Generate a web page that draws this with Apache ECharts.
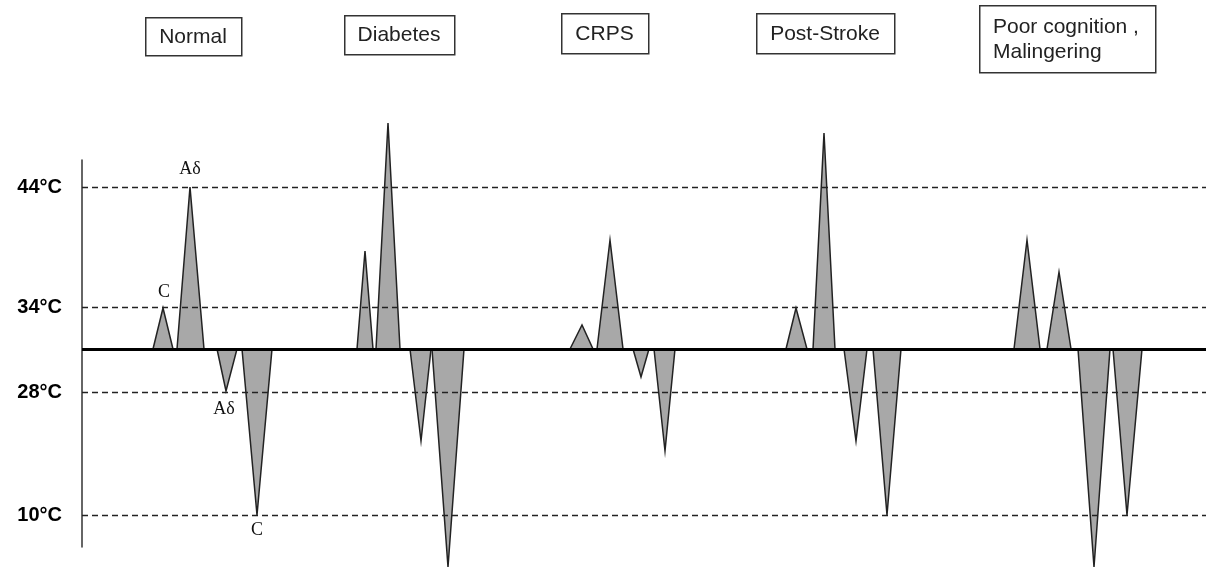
<!DOCTYPE html>
<html>
<head>
<meta charset="utf-8">
<script src="https://cdn.jsdelivr.net/npm/echarts@6/dist/echarts.min.js"></script>
<style>
html,body{margin:0;padding:0;background:#fff;}
#chart{width:1206px;height:568px;}
</style>
</head>
<body>
<div id="chart"></div>
<script>
// Condition labels (boxes at the top)
const groups = ['Normal', 'Diabetes', 'CRPS', 'Post-Stroke', 'Poor cognition ,\nMalingering'];

// Spikes: [start, peak position, end, peak height] in relative units (0 = baseline)
const normalSpikes = [[71, 81, 91, 41], [95, 108, 122, 162], [135, 144, 155, -42], [160, 175, 190, -166]];
const diabetesSpikes = [[275, 283, 291, 98], [294, 306, 318, 226], [328, 339, 349, -92], [350, 366, 382, -218]];
const crpsSpikes = [[488, 500, 511, 24], [515, 528, 541, 109], [551, 559, 567, -28], [572, 583, 593, -102]];
const strokeSpikes = [[704, 714, 725, 41], [731, 742, 753, 216], [762, 774, 785, -92], [791, 805, 819, -166]];
const poorSpikes = [[932, 945, 958, 109], [965, 977, 989, 77], [996, 1012, 1028, -218], [1031, 1045, 1060, -166]];

// Temperature reference levels
const tickLevels = [162, 42, -43, -166];
const tickLabels = ['44°C', '34°C', '28°C', '10°C'];

// Fibre annotations for the Normal group
const fibreLabels = [[82, 57, 'C'], [108, 180, 'Aδ'], [142, -60, 'Aδ'], [175, -181, 'C']];

const allSpikes = [].concat(normalSpikes, diabetesSpikes, crpsSpikes, strokeSpikes, poorSpikes);

// Box layout (pixels)
const boxLayout = [
  {x: 145, y: 17, w: 96, h: 38, align: 'center'},
  {x: 344, y: 15, w: 110, h: 39, align: 'center'},
  {x: 561, y: 13, w: 87, h: 40, align: 'center'},
  {x: 756, y: 13, w: 138, h: 40, align: 'center'},
  {x: 979, y: 5, w: 176, h: 67, align: 'left'}
];

const graphics = [];
groups.forEach((g, i) => {
  const b = boxLayout[i];
  graphics.push({
    type: 'rect', left: b.x, top: b.y, z: 10,
    shape: {width: b.w, height: b.h},
    style: {fill: '#fff', stroke: '#333', lineWidth: 1.5}
  });
  graphics.push({
    type: 'text', z: 11,
    x: b.align === 'center' ? b.x + b.w / 2 : b.x + 14,
    y: b.y + b.h / 2 + 1,
    style: {
      text: g, fill: '#222',
      font: '21px "Liberation Sans", Arial, sans-serif',
      align: b.align, verticalAlign: 'middle', lineHeight: 25
    }
  });
});

const chart = echarts.init(document.getElementById('chart'), null, {renderer: 'canvas'});
chart.setOption({
  animation: false,
  backgroundColor: '#fff',
  grid: {left: 82, right: 0, top: 160, bottom: 21},
  xAxis: {type: 'value', min: 0, max: 1124, show: false},
  yAxis: {
    type: 'value', min: -198, max: 189,
    axisLine: {show: true, onZero: false, lineStyle: {color: '#333', width: 1.5}},
    axisTick: {show: false}, axisLabel: {show: false}, splitLine: {show: false}
  },
  graphic: graphics,
  series: [
    {
      type: 'scatter', z: 1, symbolSize: 0, silent: true,
      data: [],
      markLine: {
        silent: true, symbol: 'none', animation: false,
        lineStyle: {color: '#222', width: 1.3, type: [6, 4]},
        label: {
          show: true, position: 'start', distance: 20,
          color: '#000', fontWeight: 'bold', fontSize: 20,
          fontFamily: '"Liberation Sans", Arial, sans-serif',
          formatter: p => tickLabels[tickLevels.indexOf(p.value)]
        },
        data: tickLevels.map(v => ({yAxis: v}))
      }
    },
    {
      type: 'custom', z: 2, clip: false, silent: true,
      data: allSpikes,
      encode: {x: [0, 1, 2], y: 3},
      renderItem: function (params, api) {
        const p0 = api.coord([api.value(0), 0]);
        const p1 = api.coord([api.value(1), api.value(3)]);
        const p2 = api.coord([api.value(2), 0]);
        return {
          type: 'polygon',
          shape: {points: [p0, p1, p2]},
          style: {fill: '#a8a8a8', stroke: '#222', lineWidth: 1.5}
        };
      }
    },
    {
      type: 'scatter', z: 3, symbolSize: 0, silent: true,
      data: fibreLabels,
      itemStyle: {opacity: 1},
      label: {
        show: true, position: 'inside',
        formatter: p => p.value[2],
        color: '#111', fontSize: 18,
        fontFamily: '"Liberation Serif", "Times New Roman", serif'
      },
      markLine: {
        silent: true, symbol: 'none', animation: false,
        lineStyle: {color: '#000', width: 3, type: 'solid'},
        label: {show: false},
        data: [{yAxis: 0}]
      }
    }
  ]
});
</script>
</body>
</html>
